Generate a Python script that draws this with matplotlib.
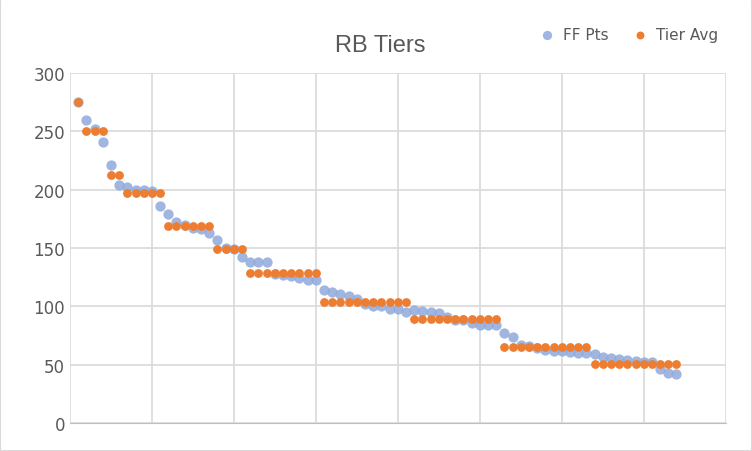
import matplotlib.pyplot as plt
import numpy as np

# tier averages and counts
tier_avg = [275, 250, 213, 197, 169, 149, 129, 104, 89, 65, 51]
tier_size = [1, 3, 2, 5, 6, 4, 9, 11, 11, 11, 11]

ff_pts = [275,
          260, 252, 241,
          221, 204,
          202, 200, 200, 199, 186,
          179, 172, 170, 167, 166, 163,
          157, 150, 149, 142,
          138, 138, 138, 128, 127, 126, 124, 123, 123,
          114, 112, 111, 109, 106, 102, 100, 100, 98, 98, 95,
          97, 96, 95, 94, 91, 88, 88, 86, 84, 84, 84,
          77, 74, 67, 66, 64, 63, 62, 62, 61, 60, 60,
          59, 57, 56, 55, 54, 53, 52, 52, 46, 43, 42]

tier_pts = np.repeat(tier_avg, tier_size)
x = np.arange(1, len(ff_pts) + 1)

fig = plt.figure(figsize=(7.52, 4.52), dpi=100)
ax = fig.add_axes([0.093, 0.062, 0.872, 0.774])
ax.scatter(x, ff_pts, s=55, color='#8faadc', alpha=0.85, linewidths=0, label='FF Pts', zorder=3)
ax.scatter(x, tier_pts, s=40, color='#ed7d31', linewidths=0, label='Tier Avg', zorder=4)

ax.set_xlim(0, 80)
ax.set_ylim(0, 300)
ax.set_xticks(np.arange(0, 81, 10))
ax.set_yticks(np.arange(0, 301, 50))
ax.tick_params(axis='x', labelbottom=False, length=0)
ax.tick_params(axis='y', length=0, labelsize=12, colors='#595959')
ax.grid(True, color='#d9d9d9', linewidth=1.2)
ax.set_axisbelow(True)
for s in ax.spines.values():
    s.set_visible(False)
ax.spines['bottom'].set_visible(True)
ax.spines['bottom'].set_color('#bfbfbf')

fig.text(0.505, 0.885, 'RB Tiers', ha='center', fontsize=17, color='#595959', family='Liberation Sans')
ax.legend(loc='upper right', bbox_to_anchor=(1.01, 1.17), ncol=2, frameon=False, fontsize=11,
          handletextpad=0.1, columnspacing=1.0, labelcolor='#595959', markerscale=0.9)

fig.patches.append(plt.Rectangle((0, 0), 1, 1, transform=fig.transFigure, fill=False,
                                 edgecolor='#d9d9d9', linewidth=1.5))
fig.savefig('out.png')
